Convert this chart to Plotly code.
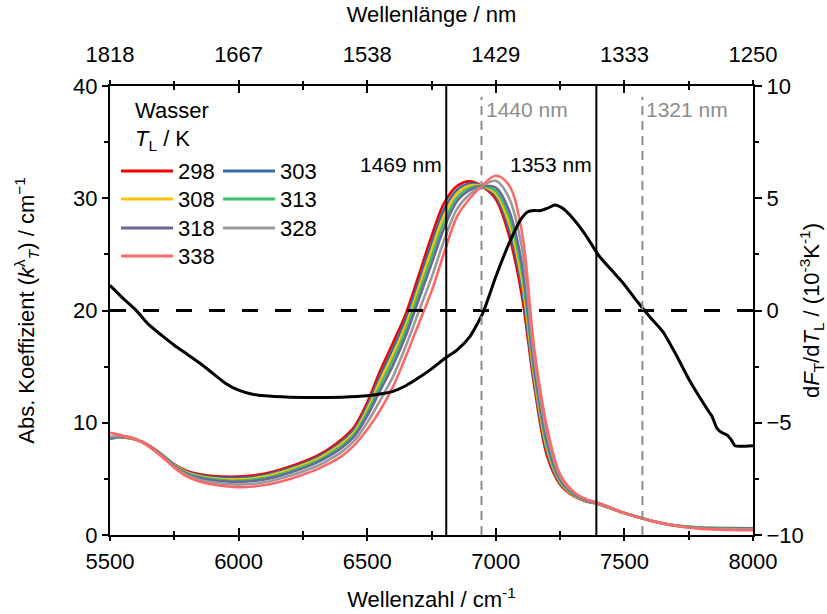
import plotly.graph_objects as go

# Wavenumber grid of the absorption spectra (cm^-1)
wavenumber = [5500, 5550, 5600, 5650, 5700, 5750, 5800, 5850, 5900, 6000,
              6100, 6200, 6300, 6350, 6400, 6450, 6500, 6550, 6600, 6650,
              6700, 6750, 6800, 6850, 6900, 6950, 7000, 7050, 7100, 7150,
              7200, 7250, 7300, 7350, 7400, 7500, 7600, 7700, 7800, 7900, 8000]

# Absorption coefficient of water (cm^-1) for each liquid temperature T_L (K)
k_298 = [8.65, 8.70, 8.50, 8.00, 7.20, 6.30, 5.70, 5.40, 5.25, 5.20,
         5.45, 6.10, 7.00, 7.65, 8.50, 9.65, 11.80, 14.60, 17.10, 19.70,
         23.10, 26.60, 29.60, 31.10, 31.50, 31.00, 29.90, 26.80, 21.50, 13.20,
         7.00, 4.50, 3.50, 3.00, 2.75, 1.95, 1.30, 0.85, 0.65, 0.58, 0.55]
k_303 = [8.60, 8.72, 8.50, 7.99, 7.18, 6.26, 5.64, 5.32, 5.16, 5.08,
         5.33, 5.96, 6.85, 7.50, 8.31, 9.42, 11.50, 14.16, 16.59, 19.21,
         22.56, 25.99, 29.05, 30.76, 31.31, 31.03, 30.15, 27.35, 22.21, 13.61,
         7.31, 4.61, 3.55, 3.03, 2.76, 1.95, 1.30, 0.85, 0.66, 0.60, 0.58]
k_308 = [8.60, 8.74, 8.51, 7.98, 7.15, 6.22, 5.58, 5.24, 5.06, 4.96,
         5.20, 5.83, 6.70, 7.35, 8.13, 9.20, 11.20, 13.73, 16.08, 18.73,
         22.03, 25.38, 28.50, 30.43, 31.13, 31.05, 30.40, 27.90, 22.93, 14.03,
         7.63, 4.73, 3.60, 3.05, 2.78, 1.95, 1.30, 0.85, 0.67, 0.62, 0.60]
k_313 = [8.55, 8.76, 8.52, 7.96, 7.12, 6.19, 5.51, 5.16, 4.97, 4.84,
         5.08, 5.69, 6.55, 7.18, 7.94, 9.00, 10.90, 13.29, 15.60, 18.24,
         21.49, 24.76, 27.95, 30.09, 30.94, 31.08, 30.65, 28.45, 23.64, 14.44,
         7.94, 4.84, 3.65, 3.08, 2.79, 1.95, 1.30, 0.84, 0.66, 0.62, 0.60]
k_318 = [8.60, 8.78, 8.52, 7.95, 7.10, 6.15, 5.45, 5.08, 4.88, 4.73,
         4.95, 5.55, 6.40, 7.00, 7.75, 8.80, 10.60, 12.85, 15.10, 17.75,
         20.95, 24.15, 27.40, 29.75, 30.75, 31.10, 30.95, 29.00, 24.35, 14.85,
         8.25, 4.95, 3.70, 3.10, 2.80, 1.95, 1.30, 0.83, 0.62, 0.58, 0.57]
k_328 = [8.75, 8.81, 8.54, 7.92, 7.05, 6.08, 5.32, 4.91, 4.69, 4.49,
         4.70, 5.28, 6.10, 6.68, 7.38, 8.40, 10.00, 11.98, 14.10, 16.82,
         19.88, 22.93, 26.30, 29.08, 30.38, 31.15, 31.55, 30.10, 25.78, 15.68,
         8.88, 5.18, 3.80, 3.15, 2.83, 1.95, 1.29, 0.82, 0.58, 0.52, 0.50]
k_338 = [9.10, 8.85, 8.55, 7.90, 7.00, 6.00, 5.20, 4.75, 4.50, 4.25,
         4.45, 5.00, 5.80, 6.35, 7.00, 8.00, 9.40, 11.10, 13.20, 15.90,
         18.80, 21.70, 25.20, 28.40, 30.00, 31.20, 32.00, 31.20, 27.20, 16.50,
         9.50, 5.40, 3.90, 3.20, 2.85, 1.95, 1.28, 0.80, 0.55, 0.45, 0.42]

temperatures = [298, 303, 308, 313, 318, 328, 338]
spectra = [k_298, k_303, k_308, k_313, k_318, k_328, k_338]
colors = ["#f50000", "#3a6aa3", "#ffc000", "#3dbf6c", "#68689a", "#9a9a9a", "#ff6868"]

# Temperature derivative of the transmitted fraction, dF_T/dT_L (10^-3 K^-1)
deriv_wn = [5500, 5550, 5600, 5650, 5700, 5750, 5800, 5850, 5900, 5950,
            6000, 6050, 6100, 6200, 6300, 6400, 6500, 6550, 6600, 6650,
            6700, 6750, 6800, 6850, 6900, 6950, 7000, 7050, 7100, 7125,
            7150, 7175, 7200, 7230, 7260, 7300, 7350, 7400, 7450, 7500,
            7550, 7600, 7650, 7700, 7750, 7800, 7825, 7840, 7860, 7880,
            7900, 7915, 7930, 7950, 8000]
deriv = [1.12, 0.55, 0.03, -0.62, -1.10, -1.55, -1.95, -2.35, -2.80, -3.25,
         -3.55, -3.72, -3.80, -3.86, -3.88, -3.86, -3.80, -3.72, -3.60, -3.35,
         -3.00, -2.60, -2.15, -1.75, -1.15, -0.10, 1.50, 2.95, 4.10, 4.40,
         4.45, 4.45, 4.55, 4.70, 4.55, 4.10, 3.35, 2.45, 1.80, 1.15,
         0.40, -0.30, -0.95, -1.95, -3.05, -4.00, -4.45, -4.70, -5.25, -5.45,
         -5.55, -5.75, -6.02, -6.05, -6.02]

# Selected wavelengths (nm): band limits and zero crossings of the derivative
band_nm = [1469, 1353]
zero_nm = [1440, 1321]

x_ticks = [5500, 6000, 6500, 7000, 7500, 8000]
x_ticktext_nm = [f"{1e7 / v:.0f}" for v in x_ticks]
x_minor = [5750, 6250, 6750, 7250, 7750]

FONT = "Liberation Sans, Arial, sans-serif"
FS = 22

fig = go.Figure()

for T, k, c in zip(temperatures, spectra, colors):
    fig.add_trace(go.Scatter(
        x=wavenumber, y=k, mode="lines", name=str(T),
        line=dict(color=c, width=2.6, shape="spline", smoothing=1.0),
        showlegend=False, xaxis="x", yaxis="y"))

fig.add_trace(go.Scatter(
    x=deriv_wn, y=deriv, mode="lines", name="dF/dT",
    line=dict(color="black", width=3, shape="spline", smoothing=0.6),
    showlegend=False, xaxis="x", yaxis="y2"))

# zero line of the derivative
fig.add_trace(go.Scatter(
    x=[5500, 8000], y=[0, 0], mode="lines",
    line=dict(color="black", width=3, dash="16px,17px"),
    showlegend=False, xaxis="x", yaxis="y2"))

# empty traces that attach the top axis and the inward tick axes
for ax in ("x2", "x3", "x4"):
    fig.add_trace(go.Scatter(x=x_ticks, y=[0] * len(x_ticks), mode="none",
                             xaxis=ax, yaxis="y", showlegend=False,
                             hoverinfo="skip"))

shapes = []
annotations = []

for nm in band_nm:
    shapes.append(dict(type="line", xref="x", yref="paper",
                       x0=1e7 / nm, x1=1e7 / nm, y0=0, y1=1,
                       line=dict(color="black", width=2)))
for nm in zero_nm:
    shapes.append(dict(type="line", xref="x", yref="paper",
                       x0=1e7 / nm, x1=1e7 / nm, y0=0, y1=0.976,
                       line=dict(color="#8c8c8c", width=2, dash="9px,6px")))

for nm in band_nm:
    annotations.append(dict(x=1e7 / nm, y=0.825, xref="x", yref="paper",
                            text=f"{nm} nm", showarrow=False, xanchor="right",
                            xshift=-2, yanchor="middle",
                            font=dict(family=FONT, size=21, color="black")))
for nm in zero_nm:
    annotations.append(dict(x=1e7 / nm, y=0.947, xref="x", yref="paper",
                            text=f"{nm} nm", showarrow=False, xanchor="left",
                            xshift=2, yanchor="middle",
                            font=dict(family=FONT, size=21, color="#8c8c8c")))

# legend block: title lines plus two columns of line samples
L, W, B, H = 110, 643, 535, 449


def px(x):
    return (x - L) / W


def py(y):
    return (B - y) / H


annotations.append(dict(x=px(133), y=py(110), xref="paper", yref="paper",
                        text="Wasser", showarrow=False, xanchor="left",
                        yanchor="middle", font=dict(family=FONT, size=FS)))
annotations.append(dict(x=px(133), y=py(140), xref="paper", yref="paper",
                        text="<i>T</i><sub>L</sub> / K", showarrow=False,
                        xanchor="left", yanchor="middle",
                        font=dict(family=FONT, size=FS)))

row_y = [171, 199, 228, 256]
col_x = [121, 223]
for i, (T, c) in enumerate(zip(temperatures, colors)):
    col, row = i % 2, i // 2
    x0 = col_x[col]
    y0 = row_y[row]
    shapes.append(dict(type="line", xref="paper", yref="paper",
                       x0=px(x0), x1=px(x0 + 52), y0=py(y0), y1=py(y0),
                       line=dict(color=c, width=3)))
    annotations.append(dict(x=px(x0 + 55), y=py(y0), xref="paper", yref="paper",
                            text=str(T), showarrow=False, xanchor="left",
                            yanchor="middle", font=dict(family=FONT, size=FS)))

axis_common = dict(showgrid=False, zeroline=False, linecolor="black",
                   tickcolor="black", tickwidth=1.5, automargin=False,
                   tickfont=dict(family=FONT, size=FS, color="black"))

minor_out = dict(tickmode="array", tickvals=x_minor, ticks="outside",
                 ticklen=3, tickcolor="black", tickwidth=1.5)
minor_in = dict(tickmode="array", tickvals=x_minor, ticks="inside",
                ticklen=4, tickcolor="black", tickwidth=1.5)

fig.update_layout(
    width=827, height=614,
    margin=dict(l=L, r=827 - L - W, t=86, b=614 - B, autoexpand=False),
    paper_bgcolor="white", plot_bgcolor="white",
    font=dict(family=FONT, size=FS, color="black"),
    shapes=shapes, annotations=annotations,
    xaxis=dict(range=[5500, 8000], tickmode="array", tickvals=x_ticks,
               ticks="outside", ticklen=4, showline=True, linewidth=2,
               ticklabelstandoff=2, minor=minor_out,
               title=dict(text="Wellenzahl / cm<sup>-1</sup>", standoff=18,
                          font=dict(family=FONT, size=FS)),
               **axis_common),
    xaxis2=dict(range=[5500, 8000], overlaying="x", side="top", anchor="y",
                tickmode="array", tickvals=x_ticks, ticktext=x_ticktext_nm,
                ticks="outside", ticklen=4, showline=True, linewidth=2,
                ticklabelstandoff=9, minor=minor_out,
                title=dict(text="Wellenlänge / nm", standoff=14,
                           font=dict(family=FONT, size=FS)),
                **axis_common),
    xaxis3=dict(range=[5500, 8000], overlaying="x", side="bottom", anchor="y",
                tickmode="array", tickvals=x_ticks, ticks="inside", ticklen=7,
                showticklabels=False, showline=False, minor=minor_in,
                **axis_common),
    xaxis4=dict(range=[5500, 8000], overlaying="x", side="top", anchor="y",
                tickmode="array", tickvals=x_ticks, ticks="inside", ticklen=7,
                showticklabels=False, showline=False, minor=minor_in,
                **axis_common),
    yaxis=dict(range=[0, 40], tickmode="array", tickvals=[0, 10, 20, 30, 40],
               ticks="outside", ticklen=6, showline=True, linewidth=2,
               minor=dict(tickmode="array", tickvals=[5, 15, 25, 35],
                          ticks="outside", ticklen=4, tickcolor="black",
                          tickwidth=1.5),
               title=dict(text="Abs. Koeffizient (<i>k</i><sup>λ</sup><sub><i>T</i></sub>) / cm<sup>−1</sup>",
                          standoff=32, font=dict(family=FONT, size=FS)),
               **axis_common),
    yaxis2=dict(range=[-10, 10], overlaying="y", side="right",
                tickmode="array", tickvals=[-10, -5, 0, 5, 10],
                ticks="outside", ticklen=7, showline=True, linewidth=2,
                minor=dict(tickmode="array", tickvals=[-7.5, -2.5, 2.5, 7.5],
                           ticks="outside", ticklen=4, tickcolor="black",
                           tickwidth=1.5),
                title=dict(text="d<i>F</i><sub>T</sub>/d<i>T</i><sub>L</sub> / (10<sup>-3</sup>K<sup>-1</sup>)",
                           standoff=6, font=dict(family=FONT, size=FS)),
                **axis_common),
)

fig.write_html("out.html")
